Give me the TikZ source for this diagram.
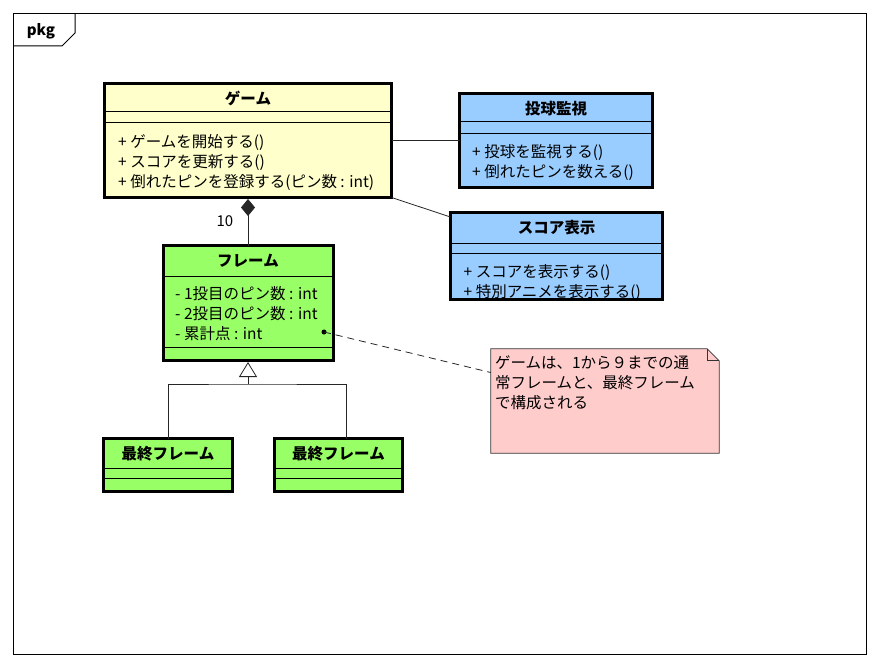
\documentclass[tikz,border=0pt]{standalone}
\usepackage{fontspec}
\setmainfont{Noto Sans CJK JP}
\usetikzlibrary{positioning, arrows.meta, calc}

\definecolor{gameyellow}{HTML}{FFFFCC}
\definecolor{watchblue}{HTML}{99CCFF}
\definecolor{framegreen}{HTML}{99FF66}
\definecolor{notepink}{HTML}{FFCCCC}

\tikzset{
  classbox/.style={draw, line width=3pt, inner sep=0pt, outer sep=0pt},
  classname/.style={font=\bfseries\fontsize{15.5}{18}\selectfont},
  members/.style={font=\fontsize{15.5}{20}\selectfont, align=left, inner sep=0pt},
  compsep/.style={line width=1pt},
  assoc/.style={draw=black!85, line width=0.8pt},
}

\begin{document}
\begin{tikzpicture}[x=1pt, y=-1pt]
  \useasboundingbox (0,0) rectangle (880,666);

  % package frame
  \draw[line width=1pt] (13.5,13.5) rectangle (866.5,654.5);
  \draw[line width=1pt] (13.5,46) -- (62,46) -- (75,33) -- (75,13.5);
  \node[font=\bfseries\fontsize{15}{18}\selectfont] (pkg) at (41,31) {pkg};

  % classes
  \node[classbox, fill=gameyellow, minimum width=287, minimum height=114] (game) at (248,140.5) {};
  \node[classbox, fill=watchblue, minimum width=193, minimum height=94, right=68pt of game] (watch) {};
  \node[classbox, fill=watchblue, minimum width=212, minimum height=87] (score) at (556.5,256) {};
  \node[classbox, fill=framegreen, minimum width=170, minimum height=115, below=48pt of game] (frame) {};
  \node[classbox, fill=framegreen, minimum width=129, minimum height=53] (lastA) at (168,465) {};
  \node[classbox, fill=framegreen, minimum width=128, minimum height=53, right=42pt of lastA] (lastB) {};

  % class names
  \foreach \c/\t in {game/ゲーム, watch/投球監視, score/スコア表示, frame/フレーム, lastA/最終フレーム, lastB/最終フレーム}
    \node[classname] (\c name) at ($(\c.north)+(0,15)$) {\t};

  % compartments
  \foreach \c/\a/\b in {game/28.5/39.5, watch/28.5/39.5, score/30.5/40.5, frame/30.5/101.5, lastA/29.5/39.5, lastB/29.5/39.5} {
    \draw[compsep] ($(\c.north west)+(0,\a)$) -- ($(\c.north east)+(0,\a)$);
    \draw[compsep] ($(\c.north west)+(0,\b)$) -- ($(\c.north east)+(0,\b)$);
  }

  % members
  \node[members, below right=51pt and 13.5pt of game.north west] (gameops)
    {+ ゲームを開始する()\\+ スコアを更新する()\\+ 倒れたピンを登録する(ピン数 : int)};
  \node[members, below right=51pt and 12.5pt of watch.north west] (watchops)
    {+ 投球を監視する()\\+ 倒れたピンを数える()};
  \node[members, below right=52pt and 13pt of score.north west] (scoreops)
    {+ スコアを表示する()\\+ 特別アニメを表示する()};
  \node[members, below right=41pt and 12pt of frame.north west] (frameattrs)
    {- 1投目のピン数 : int\\- 2投目のピン数 : int\\- 累計点 : int};

  % associations
  \draw[assoc] (game.east) -- (watch.west);
  \draw[assoc] (game.south east) -- ([yshift=-4.5pt]score.north west);
  \draw[assoc, -{Diamond[length=17pt, width=14pt]}, shorten >=1.5pt] (frame.north)
    -- node[left=11pt, font=\fontsize{15}{17}\selectfont] (mult) {10} (game.south);

  % generalization
  \coordinate (genjoin) at ($(frame.south)+(0,23.5)$);
  \draw[assoc, -{Triangle[open, length=15pt, width=18pt]}, shorten >=1.5pt] (genjoin) -- (frame.south);
  \draw[assoc] (lastA.north) |- (genjoin) -| ([xshift=7.5pt]lastB.north);

  % note
  \node[minimum width=228, minimum height=104, inner sep=0pt] (note) at (605,401) {};
  \draw[fill=notepink, draw=black!80, line width=0.8pt] (note.north west) -- ([xshift=-12pt]note.north east)
    -- ([yshift=-12pt]note.north east) -- (note.south east) -- (note.south west) -- cycle;
  \draw[draw=black!80, line width=0.8pt] ([xshift=-12pt]note.north east) |- ([yshift=-12pt]note.north east);
  \node[members, below right=7pt and 4pt of note.north west] (notetext)
    {ゲームは、1から９までの通\\常フレームと、最終フレーム\\で構成される};
  \coordinate (notedot) at ($(frame.east)+(-9,29)$);
  \fill (notedot) circle (2.5pt);
  \draw[assoc, dash pattern=on 7pt off 5pt] (notedot) -- (note.166);
\end{tikzpicture}
\end{document}
